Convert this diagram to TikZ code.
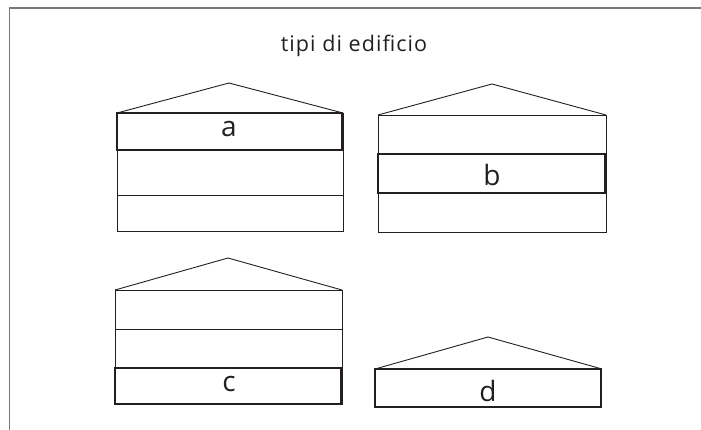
\documentclass[tikz,border=0pt]{standalone}
\usepackage{fontspec}
\setmainfont{Open Sans}
\definecolor{framegray}{RGB}{120,120,120}
\definecolor{ink}{RGB}{35,31,32}
\begin{document}
\begin{tikzpicture}[x=1pt,y=-1pt,
  thinline/.style={draw=ink,line width=0.9pt},
  thickline/.style={draw=ink,line width=2pt},
  roofline/.style={draw=ink,line width=0.9pt},
  lbl/.style={font=\fontsize{28}{28}\selectfont,text=ink,inner sep=0pt},
  titlestyle/.style={font=\fontsize{21.5}{22}\selectfont\addfontfeatures{LetterSpace=5},text=ink,inner sep=0pt,anchor=base}]
\useasboundingbox (0,0) rectangle (701,430);
% frame
\draw[framegray,line width=1.6pt] (9.5,430) -- (9.5,8) -- (701,8);
% title
\node[titlestyle] (title) at (354,52) {tipi di edificio};
% building a
\draw[thinline] (117,113) rectangle (343,231);
\draw[thinline] (117,195) -- (343,195);
\draw[roofline] (117,113) -- (229,83) -- (343,113);
\draw[thickline] (117,113) rectangle (342,150);
\node[lbl] (la) at (229,129.5) {a};
% building b
\draw[thinline] (378,115) rectangle (606,232);
\draw[roofline] (378,115) -- (492,84) -- (606,115);
\draw[thickline] (378,154) rectangle (605,193);
\node[lbl] (lb) at (492,175.5) {b};
% building c
\draw[thinline] (115,290) rectangle (342,404);
\draw[thinline] (115,329) -- (342,329);
\draw[roofline] (115,290) -- (228,258) -- (342,290);
\draw[thickline] (115,368) rectangle (341,404);
\node[lbl] (lc) at (229,384.5) {c};
% building d
\draw[roofline] (375,369) -- (488,337) -- (602,369);
\draw[thickline] (375,369) rectangle (601,407);
\node[lbl] (ld) at (488,391) {d};
\end{tikzpicture}
\end{document}
